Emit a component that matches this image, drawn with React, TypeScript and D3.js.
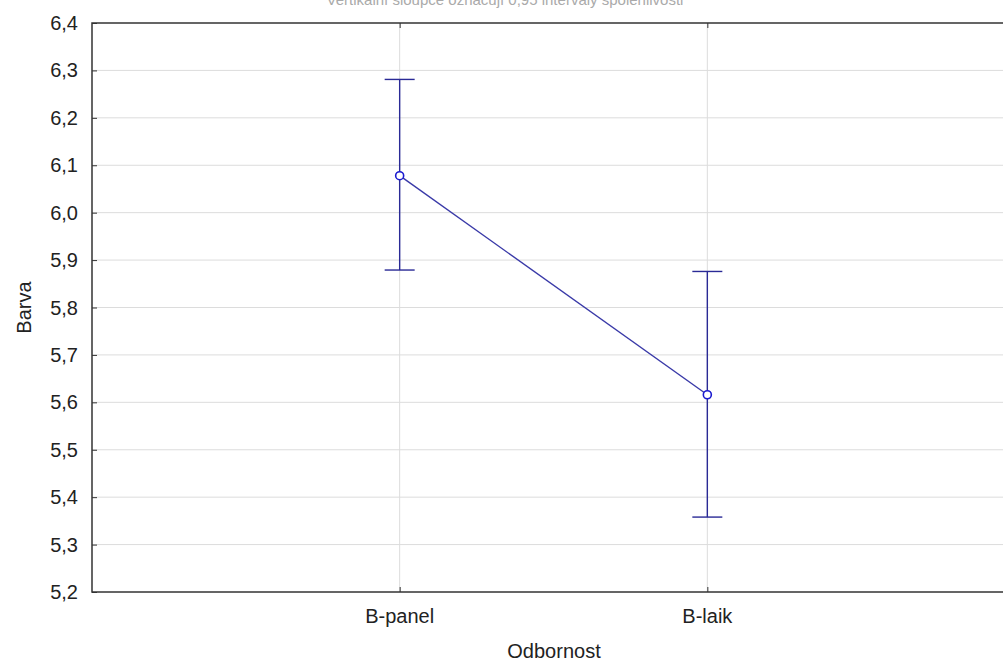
import React, { useEffect, useRef } from 'react';
import * as d3 from 'd3';

const categories = ['B-panel', 'B-laik'];
const means = [6.078, 5.616];
const upper = [6.281, 5.876];
const lower = [5.879, 5.358];
const yTicks = [5.2, 5.3, 5.4, 5.5, 5.6, 5.7, 5.8, 5.9, 6.0, 6.1, 6.2, 6.3, 6.4];

const App: React.FC = () => {
  const svgRef = useRef<SVGSVGElement>(null);

  useEffect(() => {
    if (!svgRef.current) return;
    const svg = d3.select(svgRef.current);
    svg.selectAll('*').remove();

    const margin = { top: 23, left: 92, bottom: 592, right: 1015 };
    const font = 'Liberation Sans, Arial, sans-serif';
    const fs = '20px';

    const x = d3.scalePoint<string>().domain(categories).range([margin.left, margin.right]).padding(1);
    const y = d3.scaleLinear().domain([5.2, 6.4]).range([margin.bottom, margin.top]);
    const fmt = (d: number) => d3.format('.1f')(d).replace('.', ',');

    // title, mostly above the visible area
    svg.append('text')
      .attr('x', 505).attr('y', 5)
      .attr('text-anchor', 'middle')
      .style('font-family', font).style('font-size', '15px').style('fill', '#aaa')
      .text('Vertikální sloupce označují 0,95 intervaly spolehlivosti');

    // grid
    svg.selectAll('.hgrid').data(yTicks.slice(1, -1)).enter().append('line')
      .attr('x1', margin.left).attr('x2', margin.right)
      .attr('y1', d => y(d)).attr('y2', d => y(d))
      .attr('stroke', '#dcdcdc').attr('stroke-width', 1);
    svg.selectAll('.vgrid').data(categories).enter().append('line')
      .attr('x1', d => x(d)!).attr('x2', d => x(d)!)
      .attr('y1', margin.top).attr('y2', margin.bottom)
      .attr('stroke', '#dcdcdc').attr('stroke-width', 1);

    // y axis
    const yAxis = svg.append('g').attr('transform', `translate(${margin.left},0)`)
      .call(d3.axisRight(y).tickValues(yTicks).tickSize(5).tickFormat(() => ''));
    yAxis.select('.domain').remove();
    yAxis.selectAll('line').attr('stroke', '#333');
    svg.selectAll('.ylab').data(yTicks).enter().append('text')
      .attr('x', margin.left - 14).attr('y', d => y(d) + 7)
      .attr('text-anchor', 'end')
      .style('font-family', font).style('font-size', fs).style('fill', '#222')
      .text(d => fmt(d));

    // x ticks top and bottom
    const xTop = svg.append('g').attr('transform', `translate(0,${margin.top})`)
      .call(d3.axisBottom(x).tickSize(5).tickFormat(() => ''));
    xTop.select('.domain').remove();
    xTop.selectAll('line').attr('stroke', '#333');
    const xBot = svg.append('g').attr('transform', `translate(0,${margin.bottom})`)
      .call(d3.axisTop(x).tickSize(5).tickFormat(() => ''));
    xBot.select('.domain').remove();
    xBot.selectAll('line').attr('stroke', '#333');
    svg.selectAll('.xlab').data(categories).enter().append('text')
      .attr('x', d => x(d)!).attr('y', 623)
      .attr('text-anchor', 'middle')
      .style('font-family', font).style('font-size', fs).style('fill', '#222')
      .text(d => d);

    // frame
    svg.append('rect')
      .attr('x', margin.left).attr('y', margin.top)
      .attr('width', margin.right - margin.left).attr('height', margin.bottom - margin.top)
      .attr('fill', 'none').attr('stroke', '#333').attr('stroke-width', 1.5);

    // axis titles
    svg.append('text')
      .attr('transform', `translate(31,${(margin.top + margin.bottom) / 2}) rotate(-90)`)
      .attr('text-anchor', 'middle')
      .style('font-family', font).style('font-size', fs).style('fill', '#222')
      .text('Barva');
    svg.append('text')
      .attr('x', 554).attr('y', 658)
      .attr('text-anchor', 'middle')
      .style('font-family', font).style('font-size', fs).style('fill', '#222')
      .text('Odbornost');

    // error bars
    const color = '#2a2a96';
    categories.forEach((c, i) => {
      const cx = x(c)!;
      svg.append('line').attr('x1', cx).attr('x2', cx)
        .attr('y1', y(upper[i])).attr('y2', y(lower[i]))
        .attr('stroke', color).attr('stroke-width', 1.4);
      [upper[i], lower[i]].forEach(v => {
        svg.append('line').attr('x1', cx - 15).attr('x2', cx + 15)
          .attr('y1', y(v)).attr('y2', y(v))
          .attr('stroke', color).attr('stroke-width', 1.4);
      });
    });

    // mean line
    const line = d3.line<number>()
      .x((_, i) => x(categories[i])!)
      .y(d => y(d));
    svg.append('path').datum(means).attr('d', line)
      .attr('fill', 'none').attr('stroke', '#3a3aa8').attr('stroke-width', 1.4);

    svg.selectAll('.pt').data(means).enter().append('circle')
      .attr('cx', (_, i) => x(categories[i])!).attr('cy', d => y(d))
      .attr('r', 4)
      .attr('fill', 'white').attr('stroke', '#1a1ad0').attr('stroke-width', 1.6);
  }, []);

  return (
    <svg ref={svgRef} width={1003} height={666}
      style={{ position: 'absolute', left: 0, top: 0, background: 'white' }} />
  );
};

export default App;
